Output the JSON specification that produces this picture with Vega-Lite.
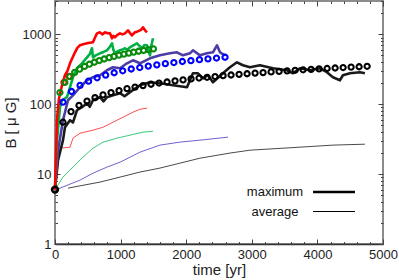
{
  "$schema": "https://vega.github.io/schema/vega-lite/v6.json",
  "width": 328,
  "height": 243,
  "autosize": {"type": "none"},
  "padding": {"left": 55, "top": 1, "right": 16, "bottom": 36},
  "background": "white",
  "config": {
    "font": "Liberation Sans",
    "view": {"stroke": "#8c8c8c", "strokeWidth": 2},
    "axis": {"grid": false, "labelFont": "Liberation Sans", "titleFont": "Liberation Sans", "tickColor": "#444", "labelFlush": false, "labelOverlap": false}
  },
  "datasets": {
    "lines": [
      {"line": "red average", "kind": "average", "t": 0, "B": 6},
      {"line": "red average", "kind": "average", "t": 76, "B": 23.5},
      {"line": "red average", "kind": "average", "t": 229, "B": 24.3},
      {"line": "red average", "kind": "average", "t": 274, "B": 32.7},
      {"line": "red average", "kind": "average", "t": 381, "B": 38.5},
      {"line": "red average", "kind": "average", "t": 579, "B": 42.5},
      {"line": "red average", "kind": "average", "t": 732, "B": 46.9},
      {"line": "red average", "kind": "average", "t": 884, "B": 55.3},
      {"line": "red average", "kind": "average", "t": 1036, "B": 65.2},
      {"line": "red average", "kind": "average", "t": 1189, "B": 76.9},
      {"line": "red average", "kind": "average", "t": 1295, "B": 84.8},
      {"line": "red average", "kind": "average", "t": 1402, "B": 87.7},
      {"line": "green average", "kind": "average", "t": 0, "B": 6},
      {"line": "green average", "kind": "average", "t": 122, "B": 9.06},
      {"line": "green average", "kind": "average", "t": 274, "B": 12.6},
      {"line": "green average", "kind": "average", "t": 427, "B": 17.5},
      {"line": "green average", "kind": "average", "t": 579, "B": 23.5},
      {"line": "green average", "kind": "average", "t": 732, "B": 28.7},
      {"line": "green average", "kind": "average", "t": 945, "B": 32.7},
      {"line": "green average", "kind": "average", "t": 1143, "B": 36.1},
      {"line": "green average", "kind": "average", "t": 1341, "B": 39.8},
      {"line": "green average", "kind": "average", "t": 1494, "B": 41.2},
      {"line": "blue average", "kind": "average", "t": 0, "B": 6},
      {"line": "blue average", "kind": "average", "t": 76, "B": 6.3},
      {"line": "blue average", "kind": "average", "t": 381, "B": 8.2},
      {"line": "blue average", "kind": "average", "t": 579, "B": 10.3},
      {"line": "blue average", "kind": "average", "t": 792, "B": 12.6},
      {"line": "blue average", "kind": "average", "t": 991, "B": 14.8},
      {"line": "blue average", "kind": "average", "t": 1295, "B": 20.6},
      {"line": "blue average", "kind": "average", "t": 1600, "B": 26},
      {"line": "blue average", "kind": "average", "t": 1905, "B": 28.7},
      {"line": "blue average", "kind": "average", "t": 2210, "B": 30.6},
      {"line": "blue average", "kind": "average", "t": 2637, "B": 33.8},
      {"line": "black average", "kind": "average", "t": 198, "B": 6.3},
      {"line": "black average", "kind": "average", "t": 686, "B": 7.69},
      {"line": "black average", "kind": "average", "t": 991, "B": 9.06},
      {"line": "black average", "kind": "average", "t": 1295, "B": 10.7},
      {"line": "black average", "kind": "average", "t": 1600, "B": 12.2},
      {"line": "black average", "kind": "average", "t": 2210, "B": 16.9},
      {"line": "black average", "kind": "average", "t": 2667, "B": 20},
      {"line": "black average", "kind": "average", "t": 2972, "B": 22},
      {"line": "black average", "kind": "average", "t": 3734, "B": 24.3},
      {"line": "black average", "kind": "average", "t": 4237, "B": 26},
      {"line": "black average", "kind": "average", "t": 4724, "B": 26.8},
      {"line": "black maximum", "kind": "maximum", "t": 0, "B": 6},
      {"line": "black maximum", "kind": "maximum", "t": 46, "B": 15.8},
      {"line": "black maximum", "kind": "maximum", "t": 122, "B": 30.6},
      {"line": "black maximum", "kind": "maximum", "t": 152, "B": 46.9},
      {"line": "black maximum", "kind": "maximum", "t": 229, "B": 59},
      {"line": "black maximum", "kind": "maximum", "t": 274, "B": 55},
      {"line": "black maximum", "kind": "maximum", "t": 335, "B": 82},
      {"line": "black maximum", "kind": "maximum", "t": 411, "B": 90.6},
      {"line": "black maximum", "kind": "maximum", "t": 488, "B": 103},
      {"line": "black maximum", "kind": "maximum", "t": 530, "B": 92},
      {"line": "black maximum", "kind": "maximum", "t": 579, "B": 114},
      {"line": "black maximum", "kind": "maximum", "t": 686, "B": 126},
      {"line": "black maximum", "kind": "maximum", "t": 740, "B": 110},
      {"line": "black maximum", "kind": "maximum", "t": 792, "B": 126},
      {"line": "black maximum", "kind": "maximum", "t": 884, "B": 134},
      {"line": "black maximum", "kind": "maximum", "t": 991, "B": 144},
      {"line": "black maximum", "kind": "maximum", "t": 1060, "B": 130},
      {"line": "black maximum", "kind": "maximum", "t": 1143, "B": 149},
      {"line": "black maximum", "kind": "maximum", "t": 1295, "B": 187},
      {"line": "black maximum", "kind": "maximum", "t": 1448, "B": 206},
      {"line": "black maximum", "kind": "maximum", "t": 1600, "B": 200},
      {"line": "black maximum", "kind": "maximum", "t": 1798, "B": 187},
      {"line": "black maximum", "kind": "maximum", "t": 2012, "B": 175},
      {"line": "black maximum", "kind": "maximum", "t": 2103, "B": 277},
      {"line": "black maximum", "kind": "maximum", "t": 2179, "B": 277},
      {"line": "black maximum", "kind": "maximum", "t": 2256, "B": 235},
      {"line": "black maximum", "kind": "maximum", "t": 2332, "B": 260},
      {"line": "black maximum", "kind": "maximum", "t": 2408, "B": 206},
      {"line": "black maximum", "kind": "maximum", "t": 2560, "B": 277},
      {"line": "black maximum", "kind": "maximum", "t": 2667, "B": 338},
      {"line": "black maximum", "kind": "maximum", "t": 2774, "B": 398},
      {"line": "black maximum", "kind": "maximum", "t": 2865, "B": 361},
      {"line": "black maximum", "kind": "maximum", "t": 2972, "B": 338},
      {"line": "black maximum", "kind": "maximum", "t": 3124, "B": 361},
      {"line": "black maximum", "kind": "maximum", "t": 3322, "B": 327},
      {"line": "black maximum", "kind": "maximum", "t": 3536, "B": 306},
      {"line": "black maximum", "kind": "maximum", "t": 3627, "B": 277},
      {"line": "black maximum", "kind": "maximum", "t": 3734, "B": 327},
      {"line": "black maximum", "kind": "maximum", "t": 3886, "B": 306},
      {"line": "black maximum", "kind": "maximum", "t": 4038, "B": 327},
      {"line": "black maximum", "kind": "maximum", "t": 4145, "B": 287},
      {"line": "black maximum", "kind": "maximum", "t": 4237, "B": 243},
      {"line": "black maximum", "kind": "maximum", "t": 4343, "B": 220},
      {"line": "black maximum", "kind": "maximum", "t": 4389, "B": 260},
      {"line": "black maximum", "kind": "maximum", "t": 4496, "B": 277},
      {"line": "black maximum", "kind": "maximum", "t": 4648, "B": 287},
      {"line": "black maximum", "kind": "maximum", "t": 4724, "B": 277},
      {"line": "blue maximum", "kind": "maximum", "t": 0, "B": 6},
      {"line": "blue maximum", "kind": "maximum", "t": 46, "B": 22},
      {"line": "blue maximum", "kind": "maximum", "t": 122, "B": 59},
      {"line": "blue maximum", "kind": "maximum", "t": 198, "B": 114},
      {"line": "blue maximum", "kind": "maximum", "t": 274, "B": 134},
      {"line": "blue maximum", "kind": "maximum", "t": 381, "B": 175},
      {"line": "blue maximum", "kind": "maximum", "t": 488, "B": 220},
      {"line": "blue maximum", "kind": "maximum", "t": 579, "B": 243},
      {"line": "blue maximum", "kind": "maximum", "t": 686, "B": 260},
      {"line": "blue maximum", "kind": "maximum", "t": 792, "B": 306},
      {"line": "blue maximum", "kind": "maximum", "t": 884, "B": 338},
      {"line": "blue maximum", "kind": "maximum", "t": 991, "B": 327},
      {"line": "blue maximum", "kind": "maximum", "t": 1097, "B": 385},
      {"line": "blue maximum", "kind": "maximum", "t": 1189, "B": 425},
      {"line": "blue maximum", "kind": "maximum", "t": 1295, "B": 385},
      {"line": "blue maximum", "kind": "maximum", "t": 1448, "B": 454},
      {"line": "blue maximum", "kind": "maximum", "t": 1600, "B": 501},
      {"line": "blue maximum", "kind": "maximum", "t": 1753, "B": 535},
      {"line": "blue maximum", "kind": "maximum", "t": 1859, "B": 553},
      {"line": "blue maximum", "kind": "maximum", "t": 1951, "B": 501},
      {"line": "blue maximum", "kind": "maximum", "t": 2057, "B": 535},
      {"line": "blue maximum", "kind": "maximum", "t": 2103, "B": 591},
      {"line": "blue maximum", "kind": "maximum", "t": 2210, "B": 501},
      {"line": "blue maximum", "kind": "maximum", "t": 2316, "B": 535},
      {"line": "blue maximum", "kind": "maximum", "t": 2408, "B": 553},
      {"line": "blue maximum", "kind": "maximum", "t": 2469, "B": 697},
      {"line": "blue maximum", "kind": "maximum", "t": 2515, "B": 553},
      {"line": "blue maximum", "kind": "maximum", "t": 2591, "B": 501},
      {"line": "green maximum", "kind": "maximum", "t": 0, "B": 6},
      {"line": "green maximum", "kind": "maximum", "t": 30, "B": 30},
      {"line": "green maximum", "kind": "maximum", "t": 76, "B": 90},
      {"line": "green maximum", "kind": "maximum", "t": 107, "B": 114},
      {"line": "green maximum", "kind": "maximum", "t": 183, "B": 126},
      {"line": "green maximum", "kind": "maximum", "t": 229, "B": 175},
      {"line": "green maximum", "kind": "maximum", "t": 274, "B": 243},
      {"line": "green maximum", "kind": "maximum", "t": 335, "B": 327},
      {"line": "green maximum", "kind": "maximum", "t": 411, "B": 385},
      {"line": "green maximum", "kind": "maximum", "t": 488, "B": 469},
      {"line": "green maximum", "kind": "maximum", "t": 530, "B": 520},
      {"line": "green maximum", "kind": "maximum", "t": 564, "B": 631},
      {"line": "green maximum", "kind": "maximum", "t": 579, "B": 469},
      {"line": "green maximum", "kind": "maximum", "t": 620, "B": 500},
      {"line": "green maximum", "kind": "maximum", "t": 686, "B": 535},
      {"line": "green maximum", "kind": "maximum", "t": 740, "B": 560},
      {"line": "green maximum", "kind": "maximum", "t": 792, "B": 591},
      {"line": "green maximum", "kind": "maximum", "t": 830, "B": 650},
      {"line": "green maximum", "kind": "maximum", "t": 869, "B": 744},
      {"line": "green maximum", "kind": "maximum", "t": 890, "B": 600},
      {"line": "green maximum", "kind": "maximum", "t": 914, "B": 535},
      {"line": "green maximum", "kind": "maximum", "t": 950, "B": 570},
      {"line": "green maximum", "kind": "maximum", "t": 991, "B": 591},
      {"line": "green maximum", "kind": "maximum", "t": 1030, "B": 610},
      {"line": "green maximum", "kind": "maximum", "t": 1067, "B": 631},
      {"line": "green maximum", "kind": "maximum", "t": 1100, "B": 600},
      {"line": "green maximum", "kind": "maximum", "t": 1143, "B": 652},
      {"line": "green maximum", "kind": "maximum", "t": 1200, "B": 700},
      {"line": "green maximum", "kind": "maximum", "t": 1250, "B": 744},
      {"line": "green maximum", "kind": "maximum", "t": 1290, "B": 680},
      {"line": "green maximum", "kind": "maximum", "t": 1326, "B": 631},
      {"line": "green maximum", "kind": "maximum", "t": 1360, "B": 700},
      {"line": "green maximum", "kind": "maximum", "t": 1402, "B": 697},
      {"line": "green maximum", "kind": "maximum", "t": 1430, "B": 560},
      {"line": "green maximum", "kind": "maximum", "t": 1448, "B": 501},
      {"line": "green maximum", "kind": "maximum", "t": 1470, "B": 700},
      {"line": "green maximum", "kind": "maximum", "t": 1494, "B": 877},
      {"line": "red maximum", "kind": "maximum", "t": 0, "B": 6},
      {"line": "red maximum", "kind": "maximum", "t": 30, "B": 60},
      {"line": "red maximum", "kind": "maximum", "t": 60, "B": 120},
      {"line": "red maximum", "kind": "maximum", "t": 107, "B": 187},
      {"line": "red maximum", "kind": "maximum", "t": 152, "B": 260},
      {"line": "red maximum", "kind": "maximum", "t": 190, "B": 300},
      {"line": "red maximum", "kind": "maximum", "t": 229, "B": 385},
      {"line": "red maximum", "kind": "maximum", "t": 270, "B": 470},
      {"line": "red maximum", "kind": "maximum", "t": 305, "B": 553},
      {"line": "red maximum", "kind": "maximum", "t": 340, "B": 640},
      {"line": "red maximum", "kind": "maximum", "t": 381, "B": 697},
      {"line": "red maximum", "kind": "maximum", "t": 430, "B": 720},
      {"line": "red maximum", "kind": "maximum", "t": 488, "B": 744},
      {"line": "red maximum", "kind": "maximum", "t": 530, "B": 760},
      {"line": "red maximum", "kind": "maximum", "t": 579, "B": 769},
      {"line": "red maximum", "kind": "maximum", "t": 610, "B": 900},
      {"line": "red maximum", "kind": "maximum", "t": 640, "B": 1033},
      {"line": "red maximum", "kind": "maximum", "t": 686, "B": 1068},
      {"line": "red maximum", "kind": "maximum", "t": 720, "B": 1000},
      {"line": "red maximum", "kind": "maximum", "t": 762, "B": 1068},
      {"line": "red maximum", "kind": "maximum", "t": 800, "B": 1040},
      {"line": "red maximum", "kind": "maximum", "t": 838, "B": 1033},
      {"line": "red maximum", "kind": "maximum", "t": 869, "B": 877},
      {"line": "red maximum", "kind": "maximum", "t": 890, "B": 950},
      {"line": "red maximum", "kind": "maximum", "t": 914, "B": 906},
      {"line": "red maximum", "kind": "maximum", "t": 950, "B": 980},
      {"line": "red maximum", "kind": "maximum", "t": 991, "B": 1033},
      {"line": "red maximum", "kind": "maximum", "t": 1030, "B": 1000},
      {"line": "red maximum", "kind": "maximum", "t": 1067, "B": 1033},
      {"line": "red maximum", "kind": "maximum", "t": 1113, "B": 1141},
      {"line": "red maximum", "kind": "maximum", "t": 1140, "B": 1050},
      {"line": "red maximum", "kind": "maximum", "t": 1173, "B": 968},
      {"line": "red maximum", "kind": "maximum", "t": 1200, "B": 1030},
      {"line": "red maximum", "kind": "maximum", "t": 1219, "B": 1068},
      {"line": "red maximum", "kind": "maximum", "t": 1260, "B": 1100},
      {"line": "red maximum", "kind": "maximum", "t": 1295, "B": 1141},
      {"line": "red maximum", "kind": "maximum", "t": 1320, "B": 1180},
      {"line": "red maximum", "kind": "maximum", "t": 1341, "B": 1259},
      {"line": "red maximum", "kind": "maximum", "t": 1370, "B": 1150},
      {"line": "red maximum", "kind": "maximum", "t": 1402, "B": 1068}
    ],
    "circles": [
      {"c": "red o", "t": 137, "B": 206},
      {"c": "red o", "t": 215, "B": 250},
      {"c": "black o", "t": 122, "B": 55.3},
      {"c": "black o", "t": 244, "B": 78.4},
      {"c": "black o", "t": 366, "B": 96.1},
      {"c": "black o", "t": 488, "B": 111},
      {"c": "black o", "t": 610, "B": 124},
      {"c": "black o", "t": 732, "B": 136},
      {"c": "black o", "t": 854, "B": 147},
      {"c": "black o", "t": 976, "B": 157},
      {"c": "black o", "t": 1098, "B": 167},
      {"c": "black o", "t": 1220, "B": 176},
      {"c": "black o", "t": 1342, "B": 185},
      {"c": "black o", "t": 1464, "B": 193},
      {"c": "black o", "t": 1586, "B": 201},
      {"c": "black o", "t": 1708, "B": 208},
      {"c": "black o", "t": 1830, "B": 216},
      {"c": "black o", "t": 1952, "B": 223},
      {"c": "black o", "t": 2074, "B": 230},
      {"c": "black o", "t": 2196, "B": 237},
      {"c": "black o", "t": 2318, "B": 243},
      {"c": "black o", "t": 2440, "B": 249},
      {"c": "black o", "t": 2562, "B": 256},
      {"c": "black o", "t": 2684, "B": 262},
      {"c": "black o", "t": 2806, "B": 268},
      {"c": "black o", "t": 2928, "B": 273},
      {"c": "black o", "t": 3050, "B": 279},
      {"c": "black o", "t": 3172, "B": 284},
      {"c": "black o", "t": 3294, "B": 290},
      {"c": "black o", "t": 3416, "B": 295},
      {"c": "black o", "t": 3538, "B": 300},
      {"c": "black o", "t": 3660, "B": 306},
      {"c": "black o", "t": 3782, "B": 311},
      {"c": "black o", "t": 3904, "B": 316},
      {"c": "black o", "t": 4026, "B": 321},
      {"c": "black o", "t": 4148, "B": 325},
      {"c": "black o", "t": 4270, "B": 330},
      {"c": "black o", "t": 4392, "B": 335},
      {"c": "black o", "t": 4514, "B": 340},
      {"c": "black o", "t": 4636, "B": 344},
      {"c": "black o", "t": 4758, "B": 349},
      {"c": "blue o", "t": 122, "B": 107},
      {"c": "blue o", "t": 252, "B": 152},
      {"c": "blue o", "t": 382, "B": 186},
      {"c": "blue o", "t": 512, "B": 214},
      {"c": "blue o", "t": 642, "B": 239},
      {"c": "blue o", "t": 772, "B": 261},
      {"c": "blue o", "t": 902, "B": 282},
      {"c": "blue o", "t": 1032, "B": 301},
      {"c": "blue o", "t": 1162, "B": 319},
      {"c": "blue o", "t": 1292, "B": 335},
      {"c": "blue o", "t": 1422, "B": 351},
      {"c": "blue o", "t": 1552, "B": 366},
      {"c": "blue o", "t": 1682, "B": 381},
      {"c": "blue o", "t": 1812, "B": 395},
      {"c": "blue o", "t": 1942, "B": 409},
      {"c": "blue o", "t": 2072, "B": 421},
      {"c": "blue o", "t": 2202, "B": 434},
      {"c": "blue o", "t": 2332, "B": 446},
      {"c": "blue o", "t": 2462, "B": 458},
      {"c": "blue o", "t": 2592, "B": 470},
      {"c": "green o", "t": 75, "B": 147},
      {"c": "green o", "t": 150, "B": 205},
      {"c": "green o", "t": 225, "B": 249},
      {"c": "green o", "t": 300, "B": 286},
      {"c": "green o", "t": 375, "B": 318},
      {"c": "green o", "t": 450, "B": 347},
      {"c": "green o", "t": 525, "B": 374},
      {"c": "green o", "t": 600, "B": 399},
      {"c": "green o", "t": 675, "B": 422},
      {"c": "green o", "t": 750, "B": 444},
      {"c": "green o", "t": 825, "B": 465},
      {"c": "green o", "t": 900, "B": 484},
      {"c": "green o", "t": 975, "B": 503},
      {"c": "green o", "t": 1050, "B": 521},
      {"c": "green o", "t": 1125, "B": 538},
      {"c": "green o", "t": 1200, "B": 557},
      {"c": "green o", "t": 1275, "B": 573},
      {"c": "green o", "t": 1350, "B": 588},
      {"c": "green o", "t": 1425, "B": 604},
      {"c": "green o", "t": 1500, "B": 619}
    ],
    "origin": [{"t": 0, "B": 6}]
  },
  "resolve": {"axis": {"x": "independent", "y": "independent"}},
  "layer": [
    {
      "data": {"name": "lines"},
      "mark": {"type": "line", "strokeJoin": "round"},
      "encoding": {
        "x": {"field": "t", "type": "quantitative", "axis": null, "scale": {"domain": [0, 5000], "nice": false}},
        "y": {"field": "B", "type": "quantitative", "axis": null, "scale": {"type": "log", "domain": [1, 3000], "nice": false}},
        "color": {"field": "line", "type": "nominal", "legend": null,
          "scale": {"domain": ["red maximum", "green maximum", "blue maximum", "black maximum", "red average", "green average", "blue average", "black average", "red o", "green o", "blue o", "black o"],
                    "range": ["#ff0000", "#00b043", "#4b3ca5", "#1a1a1a", "#ff4d4d", "#3cc97d", "#6f63d0", "#4a4a4a", "#ff0000", "#0a8a0a", "#0000ff", "#000000"]}},
        "strokeWidth": {"field": "kind", "type": "nominal",
          "scale": {"domain": ["maximum", "average"], "range": [2.6, 1]},
          "legend": {"orient": "none", "legendX": 272, "legendY": 184, "title": null, "symbolType": "M-4,0H4", "symbolSize": 110, "symbolStrokeColor": "#000", "symbolFillColor": "transparent", "symbolOpacity": 1, "labelAlign": "center", "labelOffset": -66, "labelFontSize": 13, "labelColor": "#111", "labelFont": "Liberation Sans", "rowPadding": 6, "padding": 0,
            "encode": {"symbols": {"update": {"stroke": {"value": "#000"}, "strokeOpacity": {"value": 1}}}}}}
      }
    },
    {
      "data": {"name": "circles"},
      "mark": {"type": "point", "shape": "circle", "filled": false, "size": 27, "strokeWidth": 2.1, "opacity": 1},
      "encoding": {
        "x": {"field": "t", "type": "quantitative", "axis": null, "scale": {"domain": [0, 5000], "nice": false}},
        "y": {"field": "B", "type": "quantitative", "axis": null, "scale": {"type": "log", "domain": [1, 3000], "nice": false}},
        "color": {"field": "c", "type": "nominal", "legend": null,
          "scale": {"domain": ["red maximum", "green maximum", "blue maximum", "black maximum", "red average", "green average", "blue average", "black average", "red o", "green o", "blue o", "black o"],
                    "range": ["#ff0000", "#00b043", "#4b3ca5", "#1a1a1a", "#ff4d4d", "#3cc97d", "#6f63d0", "#4a4a4a", "#ff0000", "#0a8a0a", "#0000ff", "#000000"]}}
      }
    },
    {
      "data": {"name": "origin"},
      "mark": {"type": "point", "shape": "circle", "filled": false, "size": 34, "strokeWidth": 2.6, "color": "#000", "opacity": 1},
      "encoding": {
        "x": {"field": "t", "type": "quantitative", "scale": {"domain": [0, 5000], "nice": false},
          "axis": {"orient": "bottom", "values": [0, 1000, 2000, 3000, 4000, 5000], "format": "d", "title": "time [yr]", "tickSize": -5, "labelPadding": 9, "domainColor": "#333", "domainWidth": 1.5, "labelFontSize": 13, "labelColor": "#222", "titleFontSize": 15, "titleFontWeight": "normal", "titleColor": "#222", "titlePadding": 1}},
        "y": {"field": "B", "type": "quantitative", "scale": {"type": "log", "domain": [1, 3000], "nice": false},
          "axis": {"orient": "left", "values": [1, 10, 100, 1000], "format": "d", "title": "B [ μ G]", "tickSize": -5, "labelPadding": 9, "domain": false, "labelFontSize": 13, "labelColor": "#222", "titleFontSize": 15, "titleFontWeight": "normal", "titleColor": "#222", "titlePadding": 4}}
      }
    },
    {
      "data": {"name": "origin"},
      "mark": {"type": "point", "opacity": 0},
      "encoding": {
        "x": {"field": "t", "type": "quantitative", "scale": {"domain": [0, 5000], "nice": false},
          "axis": {"orient": "bottom", "values": [200, 400, 600, 800, 1200, 1400, 1600, 1800, 2200, 2400, 2600, 2800, 3200, 3400, 3600, 3800, 4200, 4400, 4600, 4800], "labels": false, "domain": false, "title": null, "tickSize": -2.5}},
        "y": {"field": "B", "type": "quantitative", "scale": {"type": "log", "domain": [1, 3000], "nice": false},
          "axis": {"orient": "left", "values": [2, 3, 4, 5, 6, 7, 8, 9, 20, 30, 40, 50, 60, 70, 80, 90, 200, 300, 400, 500, 600, 700, 800, 900, 2000, 3000], "labels": false, "domain": false, "title": null, "tickSize": -2.5}}
      }
    },
    {
      "data": {"name": "origin"},
      "mark": {"type": "point", "opacity": 0},
      "encoding": {
        "x": {"field": "t", "type": "quantitative", "scale": {"domain": [0, 5000], "nice": false},
          "axis": {"orient": "top", "values": [0, 1000, 2000, 3000, 4000, 5000], "labels": false, "domain": false, "title": null, "tickSize": -5}},
        "y": {"field": "B", "type": "quantitative", "scale": {"type": "log", "domain": [1, 3000], "nice": false},
          "axis": {"orient": "right", "values": [1, 10, 100, 1000], "labels": false, "domain": false, "title": null, "tickSize": -5}}
      }
    },
    {
      "data": {"name": "origin"},
      "mark": {"type": "point", "opacity": 0},
      "encoding": {
        "x": {"field": "t", "type": "quantitative", "scale": {"domain": [0, 5000], "nice": false},
          "axis": {"orient": "top", "values": [200, 400, 600, 800, 1200, 1400, 1600, 1800, 2200, 2400, 2600, 2800, 3200, 3400, 3600, 3800, 4200, 4400, 4600, 4800], "labels": false, "domain": false, "title": null, "tickSize": -2.5}},
        "y": {"field": "B", "type": "quantitative", "scale": {"type": "log", "domain": [1, 3000], "nice": false},
          "axis": {"orient": "right", "values": [2, 3, 4, 5, 6, 7, 8, 9, 20, 30, 40, 50, 60, 70, 80, 90, 200, 300, 400, 500, 600, 700, 800, 900, 2000, 3000], "labels": false, "domain": false, "title": null, "tickSize": -2.5}}
      }
    }
  ]
}
